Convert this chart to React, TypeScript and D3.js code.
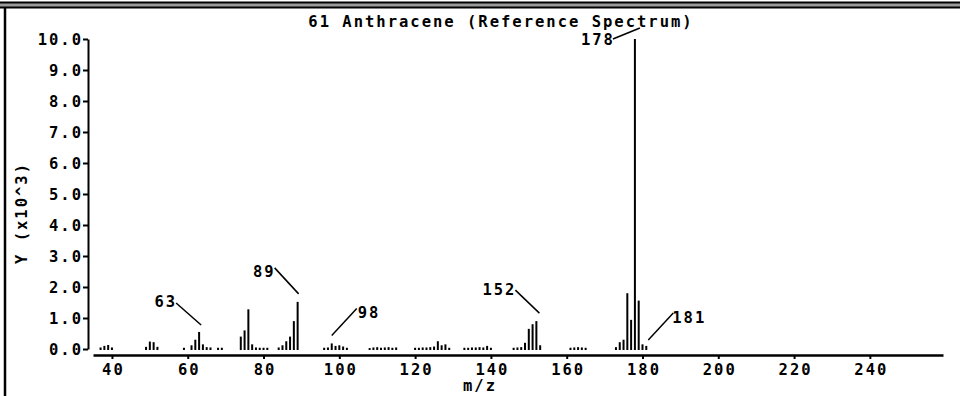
import { useEffect, useRef } from "react";
import * as d3 from "d3";

// m/z values and their abundances (counts)
const massNumbers = [
  37, 38, 39, 40,
  49, 50, 51, 52,
  59, 61, 62, 63, 64, 65, 66, 68, 69,
  74, 75, 76, 77, 78, 79, 80, 81,
  84, 85, 86, 87, 88, 89,
  96, 97, 98, 99, 100, 101, 102,
  108, 109, 110, 111, 112, 113, 114, 115,
  120, 121, 122, 123, 124, 125, 126, 127, 128, 129,
  133, 134, 135, 136, 137, 138, 139, 140,
  146, 147, 148, 149, 150, 151, 152, 153,
  161, 162, 163, 164, 165,
  173, 174, 175, 176, 177, 178, 179, 180, 181,
];
const abundances = [
  50, 100, 130, 50,
  70, 240, 220, 70,
  40, 120, 300, 550, 150, 60, 50, 40, 40,
  400, 600, 1280, 150, 50, 40, 40, 40,
  50, 120, 250, 400, 900, 1520,
  40, 50, 180, 100, 120, 80, 40,
  30, 50, 60, 40, 50, 60, 40, 50,
  40, 40, 50, 50, 60, 80, 250, 120, 150, 40,
  40, 40, 50, 50, 60, 50, 100, 40,
  40, 50, 60, 200, 650, 800, 900, 120,
  40, 50, 60, 50, 40,
  60, 220, 300, 1800, 940, 10000, 1560, 150, 100,
];

const xTicks = [40, 60, 80, 100, 120, 140, 160, 180, 200, 220, 240];
const yTicks = [0, 1000, 2000, 3000, 4000, 5000, 6000, 7000, 8000, 9000, 10000];
const labelledPeaks = [63, 89, 98, 152, 178, 181];

const title = "61 Anthracene (Reference Spectrum)";
const xTitle = "m/z";
const yTitle = "Y (x10^3)";

// label placement relative to each labelled peak top (px)
const labelLayout: Record<number, { sx: number; sy: number; ex: number; ey: number; anchor: string; tx: number; ty: number }> = {
  63: { sx: -23, sy: -29, ex: 2, ey: -7, anchor: "end", tx: -24, ty: -25 },
  89: { sx: -23, sy: -34, ex: 1, ey: -8, anchor: "end", tx: -24, ty: -25 },
  98: { sx: 25, sy: -35, ex: 0, ey: -8, anchor: "start", tx: 26, ty: -25 },
  152: { sx: -21, sy: -31, ex: 3, ey: -8, anchor: "end", tx: -22, ty: -26 },
  178: { sx: -22, sy: 0, ex: 5, ey: -11, anchor: "end", tx: -22, ty: 6 },
  181: { sx: 27, sy: -33, ex: 2, ey: -6, anchor: "start", tx: 26, ty: -23 },
};

const WIDTH = 960;
const HEIGHT = 396;
const FONT = "'DejaVu Sans Mono', monospace";
const SPACING = 2;

export default function App() {
  const svgRef = useRef<SVGSVGElement>(null);

  useEffect(() => {
    if (!svgRef.current) return;
    const svg = d3.select(svgRef.current);
    svg.selectAll("*").remove();

    const x = d3.scaleLinear().domain([35, 259.3]).range([93, 943]);
    const y = d3.scaleLinear().domain([0, 10000]).range([349, 39]);

    // frame
    svg.append("rect").attr("x", 0).attr("y", 2).attr("width", WIDTH).attr("height", 6).attr("fill", "#9a9a9a");
    svg.append("line").attr("x1", 0).attr("x2", WIDTH).attr("y1", 2.5).attr("y2", 2.5).attr("stroke", "#000").attr("stroke-width", 2);
    svg.append("line").attr("x1", 0).attr("x2", WIDTH).attr("y1", 7.5).attr("y2", 7.5).attr("stroke", "#000").attr("stroke-width", 2);
    svg.append("line").attr("x1", 5).attr("x2", 5).attr("y1", 7).attr("y2", HEIGHT).attr("stroke", "#000").attr("stroke-width", 2.5);

    const textStyle = (sel: d3.Selection<any, any, any, any>) =>
      sel
        .attr("font-family", FONT)
        .attr("font-size", 15.5)
        .attr("font-weight", "bold")
        .attr("letter-spacing", SPACING)
        .attr("fill", "#000");

    // title
    svg.append("text").attr("x", 501).attr("y", 27).attr("text-anchor", "middle").text(title).call(textStyle);

    // y axis
    const yAxis = svg
      .append("g")
      .attr("transform", "translate(88,0)")
      .call(
        d3
          .axisLeft(y)
          .tickValues(yTicks)
          .tickSize(5)
          .tickSizeOuter(0)
          .tickPadding(2)
          .tickFormat((d) => (+d / 1000).toFixed(1))
      );
    yAxis.select(".domain").attr("stroke-width", 2).attr("stroke", "#000");
    yAxis.selectAll(".tick line").attr("stroke-width", 2).attr("stroke", "#000");
    yAxis.selectAll(".tick text").call(textStyle).attr("dx", SPACING).attr("dy", "0.36em");

    // x axis
    const xAxis = svg
      .append("g")
      .attr("transform", "translate(0,355)")
      .call(d3.axisBottom(x).tickValues(xTicks).tickSize(4).tickSizeOuter(0).tickPadding(4).tickFormat(d3.format("d")));
    xAxis.select(".domain").attr("stroke-width", 2.5).attr("stroke", "#000");
    xAxis.selectAll(".tick line").attr("stroke-width", 2).attr("stroke", "#000");
    xAxis.selectAll(".tick text").call(textStyle).attr("dx", SPACING / 2).attr("dy", "0.8em");

    // axis titles
    svg.append("text").attr("x", 480).attr("y", 391).attr("text-anchor", "middle").text(xTitle).call(textStyle);
    svg
      .append("text")
      .attr("transform", "translate(27,213) rotate(-90)")
      .attr("text-anchor", "middle")
      .text(yTitle)
      .call(textStyle);

    // bars
    const data = massNumbers.map((m, i) => ({ m, v: abundances[i] }));
    svg
      .append("g")
      .selectAll("rect")
      .data(data)
      .enter()
      .append("rect")
      .attr("x", (d) => x(d.m) - 1)
      .attr("width", 2)
      .attr("y", (d) => y(d.v))
      .attr("height", (d) => y(0) - y(d.v) + 1)
      .attr("fill", "#000");

    // peak labels
    const peaks = data.filter((d) => labelledPeaks.includes(d.m));
    const ann = svg.append("g");
    peaks.forEach((d) => {
      const L = labelLayout[d.m];
      const px = x(d.m);
      const py = y(d.v);
      ann
        .append("line")
        .attr("x1", px + L.sx)
        .attr("y1", py + L.sy)
        .attr("x2", px + L.ex)
        .attr("y2", py + L.ey)
        .attr("stroke", "#000")
        .attr("stroke-width", 1.5);
      ann
        .append("text")
        .attr("x", px + L.tx + (L.anchor === "end" ? SPACING : 0))
        .attr("y", py + L.ty)
        .attr("text-anchor", L.anchor)
        .text(String(d.m))
        .call(textStyle);
    });
  }, []);

  return (
    <svg
      ref={svgRef}
      width={WIDTH}
      height={HEIGHT}
      style={{ position: "absolute", left: 0, top: 0, background: "#fff" }}
    />
  );
}
